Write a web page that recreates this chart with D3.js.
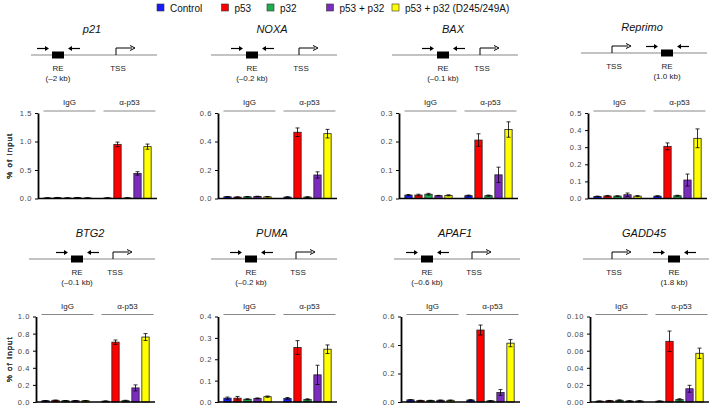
<!DOCTYPE html>
<html>
<head>
<meta charset="utf-8">
<script src="https://cdn.jsdelivr.net/npm/d3@7"></script>
<style>
  body { margin: 0; background: #fff; }
  svg { font-family: Arial, "Liberation Sans", sans-serif; }
</style>
</head>
<body>
<svg id="chart" width="709" height="408"></svg>
<script>
// ---- data ----
const series = ["Control", "p53", "p32", "p53 + p32", "p53 + p32 (D245/249A)"];
const colors = ["#1a1aff", "#ff0000", "#1fae4b", "#7b2cbf", "#ffff00"];
const groups = ["IgG", "α-p53"];
const genes = ["p21", "NOXA", "BAX", "Reprimo", "BTG2", "PUMA", "APAF1", "GADD45"];
const reLabels = ["(–2 kb)", "(–0.2 kb)", "(–0.1 kb)", "(1.0 kb)", "(–0.1 kb)", "(–0.2 kb)", "(–0.6 kb)", "(1.8 kb)"];
const yMax = [1.5, 0.6, 0.3, 0.5, 1.0, 0.4, 0.6, 0.10];
const yStep = [0.5, 0.2, 0.1, 0.1, 0.2, 0.1, 0.2, 0.02];

// % of input, IgG pulldown (one row per gene, one value per series)
const iggValues = [
  [0.010, 0.015, 0.010, 0.015, 0.010],
  [0.012, 0.010, 0.012, 0.014, 0.012],
  [0.012, 0.012, 0.015, 0.010, 0.011],
  [0.012, 0.015, 0.014, 0.022, 0.014],
  [0.015, 0.020, 0.015, 0.015, 0.015],
  [0.018, 0.018, 0.013, 0.017, 0.025],
  [0.015, 0.010, 0.010, 0.012, 0.012],
  [0.0010, 0.0015, 0.0020, 0.0012, 0.0012]
];
const iggErrors = [
  [0.002, 0.003, 0.002, 0.003, 0.002],
  [0.002, 0.002, 0.002, 0.002, 0.002],
  [0.002, 0.003, 0.003, 0.001, 0.002],
  [0.002, 0.003, 0.002, 0.010, 0.003],
  [0.002, 0.003, 0.002, 0.002, 0.002],
  [0.005, 0.008, 0.002, 0.002, 0.003],
  [0.002, 0.002, 0.002, 0.002, 0.002],
  [0.0003, 0.0003, 0.0005, 0.0003, 0.0003]
];
// % of input, anti-p53 pulldown
const p53Values = [
  [0.010, 0.950, 0.010, 0.440, 0.910],
  [0.010, 0.465, 0.010, 0.165, 0.455],
  [0.010, 0.205, 0.010, 0.083, 0.242],
  [0.014, 0.305, 0.016, 0.108, 0.352],
  [0.010, 0.700, 0.015, 0.165, 0.760],
  [0.017, 0.255, 0.012, 0.127, 0.247],
  [0.014, 0.505, 0.008, 0.067, 0.413],
  [0.0010, 0.071, 0.0030, 0.0155, 0.057]
];
const p53Errors = [
  [0.003, 0.040, 0.003, 0.030, 0.045],
  [0.003, 0.030, 0.003, 0.022, 0.030],
  [0.002, 0.022, 0.002, 0.027, 0.027],
  [0.002, 0.020, 0.003, 0.035, 0.055],
  [0.003, 0.025, 0.005, 0.035, 0.040],
  [0.004, 0.032, 0.003, 0.045, 0.020],
  [0.003, 0.035, 0.002, 0.020, 0.025],
  [0.0003, 0.012, 0.0008, 0.004, 0.006]
];

// ---- layout (px) ----
const axisLeft = [38, 218, 399, 588, 36, 218, 401, 590];
const lineY = [55, 55, 55, 53, 259, 259, 259, 259];
const reAt = [20, 34, 44, 79, 41, 33, 26, 84];   // RE box centre, from y axis
const tssAt = [78, 81, 81, 24, 77, 78, 71, 22];  // TSS, from y axis
const plotW = 119, plotH = 85.5;

const svg = d3.select("#chart");

// legend
const legendX = [157, 221.5, 267, 326.5, 392];
const legend = svg.append("g");
series.forEach((s, i) => {
  legend.append("rect")
    .attr("x", legendX[i]).attr("y", 4)
    .attr("width", 7).attr("height", 7)
    .attr("fill", colors[i]).attr("stroke", "#333").attr("stroke-width", 0.6);
  legend.append("text")
    .attr("x", legendX[i] + 13).attr("y", 11.5)
    .attr("font-size", 10).attr("fill", "#111")
    .text(s);
});

genes.forEach((gene, gi) => {
  const ax = axisLeft[gi];
  const ly = lineY[gi];
  const row = gi < 4 ? 0 : 1;
  const top = (row === 0 ? 55.5 : 259) + 57.5;
  const g = svg.append("g");

  // gene diagram
  g.append("text")
    .attr("x", ax + 54).attr("y", ly - 22)
    .attr("text-anchor", "middle").attr("font-size", 11).attr("font-style", "italic")
    .attr("fill", "#111").text(gene);
  g.append("line")
    .attr("x1", ax - 7).attr("x2", ax + 119)
    .attr("y1", ly).attr("y2", ly)
    .attr("stroke", "#888").attr("stroke-width", 1.2);
  const rx = ax + reAt[gi];
  g.append("rect")
    .attr("x", rx - 6).attr("y", ly - 3.5)
    .attr("width", 12).attr("height", 7).attr("fill", "#000");
  // primer arrows
  const arrow = (x1, x2, y) => {
    const dir = Math.sign(x2 - x1);
    g.append("line").attr("x1", x1).attr("x2", x2 - dir * 2).attr("y1", y).attr("y2", y)
      .attr("stroke", "#000").attr("stroke-width", 1.2);
    g.append("path")
      .attr("d", `M${x2},${y} L${x2 - dir * 4},${y - 2.5} L${x2 - dir * 4},${y + 2.5} Z`)
      .attr("fill", "#000");
  };
  arrow(rx - 21, rx - 9, ly - 6.5);
  arrow(rx + 22, rx + 10, ly - 6.5);
  g.append("text").attr("x", rx).attr("y", ly + 15.5)
    .attr("text-anchor", "middle").attr("font-size", 8).attr("fill", "#222").text("RE");
  g.append("text").attr("x", rx).attr("y", ly + 25.5)
    .attr("text-anchor", "middle").attr("font-size", 8).attr("fill", "#222").text(reLabels[gi]);
  // TSS bent arrow
  const tx = ax + tssAt[gi];
  g.append("path")
    .attr("d", `M${tx},${ly} V${ly - 7} H${tx + 16}`)
    .attr("fill", "none").attr("stroke", "#000").attr("stroke-width", 1);
  g.append("path")
    .attr("d", `M${tx + 19},${ly - 7} L${tx + 14},${ly - 9.5} M${tx + 19},${ly - 7} L${tx + 14},${ly - 4.5}`)
    .attr("fill", "none").attr("stroke", "#000").attr("stroke-width", 1);
  g.append("text").attr("x", tx + 2).attr("y", ly + 15.5)
    .attr("text-anchor", "middle").attr("font-size", 8).attr("fill", "#222").text("TSS");

  // chart
  const c = g.append("g").attr("transform", `translate(${ax},${top})`);
  const y = d3.scaleLinear().domain([0, yMax[gi]]).range([plotH, 0]);
  const x0 = d3.scaleBand().domain(groups).range([0, plotW]).paddingInner(0.1667).paddingOuter(0.075);
  const x1 = d3.scaleBand().domain(series).range([0, x0.bandwidth()]).paddingInner(0.27).paddingOuter(0.135);

  // group labels
  groups.forEach(gr => {
    c.append("line")
      .attr("x1", x0(gr) + 1).attr("x2", x0(gr) + x0.bandwidth() + 3)
      .attr("y1", -2).attr("y2", -2)
      .attr("stroke", "#888").attr("stroke-width", 1);
    c.append("text")
      .attr("x", x0(gr) + x0.bandwidth() / 2 + 2).attr("y", -8)
      .attr("text-anchor", "middle").attr("font-size", 8).attr("fill", "#222")
      .text(gr);
  });

  const data = [];
  groups.forEach((gr, k) => {
    const vals = k === 0 ? iggValues[gi] : p53Values[gi];
    const errs = k === 0 ? iggErrors[gi] : p53Errors[gi];
    series.forEach((s, si) => data.push({ group: gr, key: s, value: vals[si], err: errs[si], color: colors[si] }));
  });

  c.selectAll("rect.bar").data(data).enter().append("rect")
    .attr("class", "bar")
    .attr("x", d => x0(d.group) + x1(d.key))
    .attr("y", d => y(d.value))
    .attr("width", x1.bandwidth())
    .attr("height", d => plotH - y(d.value))
    .attr("fill", d => d.color)
    .attr("stroke", "#222").attr("stroke-width", 0.8);

  const eb = c.selectAll("g.err").data(data).enter().append("g").attr("class", "err")
    .attr("transform", d => `translate(${x0(d.group) + x1(d.key) + x1.bandwidth() / 2},0)`);
  eb.append("line")
    .attr("y1", d => y(d.value - d.err)).attr("y2", d => y(d.value + d.err))
    .attr("stroke", "#000").attr("stroke-width", 0.8);
  eb.append("line")
    .attr("x1", -2).attr("x2", 2)
    .attr("y1", d => y(d.value + d.err)).attr("y2", d => y(d.value + d.err))
    .attr("stroke", "#000").attr("stroke-width", 0.8);
  eb.append("line")
    .attr("x1", -2).attr("x2", 2)
    .attr("y1", d => y(d.value - d.err)).attr("y2", d => y(d.value - d.err))
    .attr("stroke", "#000").attr("stroke-width", 0.8);

  // axes
  const ticks = d3.range(0, yMax[gi] + yStep[gi] / 2, yStep[gi]);
  const fmt = yStep[gi] < 0.05 ? d3.format(".2f") : d3.format(".1f");
  const yAxis = c.append("g")
    .call(d3.axisLeft(y).tickValues(ticks).tickFormat(fmt).tickSize(3).tickSizeOuter(0));
  yAxis.select(".domain").attr("stroke", "#000").attr("stroke-width", 1.8);
  yAxis.selectAll(".tick line").attr("stroke", "#000").attr("stroke-width", 1);
  yAxis.selectAll(".tick text")
    .attr("font-size", 7.5).attr("fill", "#444").attr("letter-spacing", 0.6)
    .attr("font-family", "Arial, 'Liberation Sans', sans-serif");
  c.append("line")
    .attr("x1", 0).attr("x2", plotW)
    .attr("y1", plotH).attr("y2", plotH)
    .attr("stroke", "#000").attr("stroke-width", 1.6);

  c.append("text")
    .attr("transform", `translate(${10 - ax},${plotH / 2}) rotate(-90)`)
    .attr("text-anchor", "middle").attr("dominant-baseline", "middle")
    .attr("font-size", 8).attr("letter-spacing", 1).attr("fill", "#444")
    .text("% of Input");
});
</script>
</body>
</html>
